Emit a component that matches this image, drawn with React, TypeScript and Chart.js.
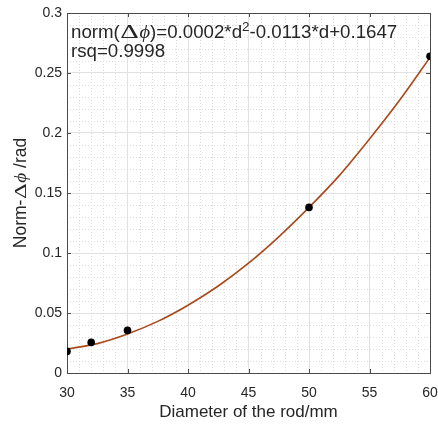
import { useEffect, useRef } from "react";
import { Chart, registerables } from "chart.js";

Chart.register(...registerables);

// Measured points (rod diameter in mm, normalized phase difference in rad)
const pointDiameter = [30, 32, 35, 50, 60];
const pointPhase = [0.018, 0.0255, 0.0355, 0.138, 0.264];

// Fitted curve
const curveDiameter = [30, 32.5, 35, 37.5, 40, 42.5, 45, 47.5, 50, 52.5, 55, 57.5, 60];
const curvePhase = [0.02, 0.0245, 0.0325, 0.043, 0.0565, 0.0725, 0.0915, 0.1135, 0.138, 0.1645, 0.195, 0.2275, 0.263];

const xTicks = [30, 35, 40, 45, 50, 55, 60];
const yTicks = [0, 0.05, 0.1, 0.15, 0.2, 0.25, 0.3];
const xMinorStep = 1;
const yMinorStep = 0.01;

const xTitle = "Diameter of the rod/mm";
const fitLineA = "norm(";
const fitLineB = ")=0.0002*d";
const fitLineSup = "2";
const fitLineC = "-0.0113*d+0.1647";
const rsqText = "rsq=0.9998";

const TEXT = "#262626";
const SANS = "'Liberation Sans', Arial, sans-serif";
const SERIF = "'Liberation Serif', 'Times New Roman', serif";

type Seg = { t: string; font: string; dy?: number; sx?: number; pad?: number };

function segW(ctx: CanvasRenderingContext2D, s: Seg) {
  ctx.font = s.font;
  return ctx.measureText(s.t).width * (s.sx || 1) + 2 * (s.pad || 0);
}
function drawSegs(ctx: CanvasRenderingContext2D, segs: Seg[], x: number, y: number) {
  let cx = x;
  for (const s of segs) {
    const w = segW(ctx, s);
    ctx.font = s.font;
    ctx.save();
    ctx.translate(cx + (s.pad || 0), y + (s.dy || 0));
    ctx.scale(s.sx || 1, 1);
    ctx.fillText(s.t, 0, 0);
    ctx.restore();
    cx += w;
  }
  return cx - x;
}
function segsWidth(ctx: CanvasRenderingContext2D, segs: Seg[]) {
  let w = 0;
  for (const s of segs) w += segW(ctx, s);
  return w;
}

const decor = {
  id: "decor",
  beforeDatasetsDraw(chart: any) {
    const { ctx, chartArea, scales } = chart;
    const { left, right, top, bottom } = chartArea;
    const x = scales.x;
    const y = scales.y;
    ctx.save();
    // minor grid (dotted)
    ctx.strokeStyle = "#dcdcdc";
    ctx.lineWidth = 1;
    ctx.setLineDash([1, 2]);
    const xmin = xTicks[0], xmax = xTicks[xTicks.length - 1];
    for (let v = xmin + xMinorStep; v < xmax - 1e-9; v += xMinorStep) {
      if (xTicks.some((t) => Math.abs(t - v) < 1e-6)) continue;
      const px = Math.round(x.getPixelForValue(v)) + 0.5;
      ctx.beginPath();
      ctx.moveTo(px, top);
      ctx.lineTo(px, bottom);
      ctx.stroke();
    }
    const ymin = yTicks[0], ymax = yTicks[yTicks.length - 1];
    for (let i = 1; ymin + i * yMinorStep < ymax - 1e-9; i++) {
      const v = ymin + i * yMinorStep;
      if (yTicks.some((t) => Math.abs(t - v) < 1e-6)) continue;
      const py = Math.round(y.getPixelForValue(v)) + 0.5;
      ctx.beginPath();
      ctx.moveTo(left, py);
      ctx.lineTo(right, py);
      ctx.stroke();
    }
    ctx.setLineDash([]);
    // box
    ctx.strokeStyle = "#4a4a4a";
    ctx.lineWidth = 1;
    ctx.strokeRect(Math.round(left) + 0.5, Math.round(top) + 0.5, Math.round(right - left), Math.round(bottom - top));
    // inward ticks
    const tl = 4;
    for (const v of xTicks) {
      const px = Math.round(x.getPixelForValue(v)) + 0.5;
      ctx.beginPath();
      ctx.moveTo(px, bottom);
      ctx.lineTo(px, bottom - tl);
      ctx.moveTo(px, top);
      ctx.lineTo(px, top + tl);
      ctx.stroke();
    }
    for (const v of yTicks) {
      const py = Math.round(y.getPixelForValue(v)) + 0.5;
      ctx.beginPath();
      ctx.moveTo(left, py);
      ctx.lineTo(left + tl, py);
      ctx.moveTo(right, py);
      ctx.lineTo(right - tl, py);
      ctx.stroke();
    }
    ctx.restore();
  },
  afterDraw(chart: any) {
    const { ctx, chartArea } = chart;
    const { left, right, top, bottom } = chartArea;
    ctx.save();
    ctx.fillStyle = TEXT;
    ctx.textBaseline = "alphabetic";
    ctx.textAlign = "left";
    // annotation
    const fs = 18.7;
    const main = `${fs}px ${SANS}`;
    drawSegs(
      ctx,
      [
        { t: fitLineA, font: main },
        { t: "\u0394", font: `${fs}px ${SERIF}`, sx: 1.55, pad: 0.5 },
        { t: "\u03D5", font: `italic ${fs}px ${SERIF}`, sx: 1.1 },
        { t: fitLineB, font: main },
        { t: fitLineSup, font: `${fs * 0.72}px ${SANS}`, dy: -7 },
        { t: fitLineC, font: main },
      ],
      left + 4,
      top + 25
    );
    ctx.font = main;
    ctx.fillText(rsqText, left + 4, top + 44);

    // x title
    ctx.font = `17px ${SANS}`;
    ctx.textAlign = "center";
    ctx.fillText(xTitle, (left + right) / 2, 417);

    // y title (rotated, mixed fonts)
    const ys = 17.5;
    const segs: Seg[] = [
      { t: "Norm-", font: `${ys}px ${SANS}` },
      { t: "\u0394", font: `${ys}px ${SERIF}`, sx: 1.4, pad: 0.5 },
      { t: "\u03D5", font: `italic ${ys}px ${SERIF}`, sx: 1.1 },
      { t: " /rad", font: `${ys}px ${SANS}` },
    ];
    ctx.textAlign = "left";
    const w = segsWidth(ctx, segs);
    ctx.translate(26, (top + bottom) / 2);
    ctx.rotate(-Math.PI / 2);
    drawSegs(ctx, segs, -w / 2, 0);
    ctx.restore();
  },
};

export default function App() {
  const ref = useRef<HTMLCanvasElement | null>(null);
  useEffect(() => {
    document.body.style.margin = "0";
    const canvas = ref.current!;
    const chart = new Chart(canvas, {
      type: "scatter",
      data: {
        datasets: [
          {
            label: "points",
            data: pointDiameter.map((d, i) => ({ x: d, y: pointPhase[i] })),
            backgroundColor: "#000000",
            borderColor: "#000000",
            pointRadius: 3.8,
            pointBorderWidth: 0,
            showLine: false,
          },
          {
            label: "fit",
            data: curveDiameter.map((d, i) => ({ x: d, y: curvePhase[i] })),
            borderColor: "#a9491b",
            borderWidth: 1.6,
            pointRadius: 0,
            showLine: true,
            cubicInterpolationMode: "monotone",
          } as any,
        ],
      },
      options: {
        animation: false,
        responsive: false,
        devicePixelRatio: 1,
        layout: { padding: { top: 13, right: 8, left: 0, bottom: 0 } },
        plugins: { legend: { display: false }, tooltip: { enabled: false } },
        scales: {
          x: {
            type: "linear",
            min: xTicks[0],
            max: xTicks[xTicks.length - 1],
            afterBuildTicks: (s: any) => {
              s.ticks = xTicks.map((v) => ({ value: v }));
            },
            afterFit: (s: any) => {
              s.height = 52;
              s.paddingLeft = 0;
              s.paddingRight = 0;
            },
            grid: { color: "#e2e2e2", lineWidth: 1, drawTicks: false },
            border: { display: false },
            ticks: {
              padding: 12,
              color: TEXT,
              font: { family: SANS, size: 14 },
              maxRotation: 0,
              callback: (v: any) => String(v),
            },
          },
          y: {
            type: "linear",
            min: yTicks[0],
            max: yTicks[yTicks.length - 1],
            afterBuildTicks: (s: any) => {
              s.ticks = yTicks.map((v) => ({ value: v }));
            },
            afterFit: (s: any) => {
              s.width = 67;
              s.paddingTop = 0;
              s.paddingBottom = 0;
            },
            grid: { color: "#e2e2e2", lineWidth: 1, drawTicks: false },
            border: { display: false },
            ticks: {
              padding: 5,
              color: TEXT,
              font: { family: SANS, size: 14 },
              callback: (v: any) => String(+(+v).toFixed(2)),
            },
          },
        },
      },
      plugins: [decor],
    });
    return () => chart.destroy();
  }, []);
  return (
    <div style={{ position: "absolute", left: 0, top: 0, width: 438, height: 425, background: "#fff" }}>
      <canvas ref={ref} width={438} height={425} style={{ width: 438, height: 425 }} />
    </div>
  );
}
